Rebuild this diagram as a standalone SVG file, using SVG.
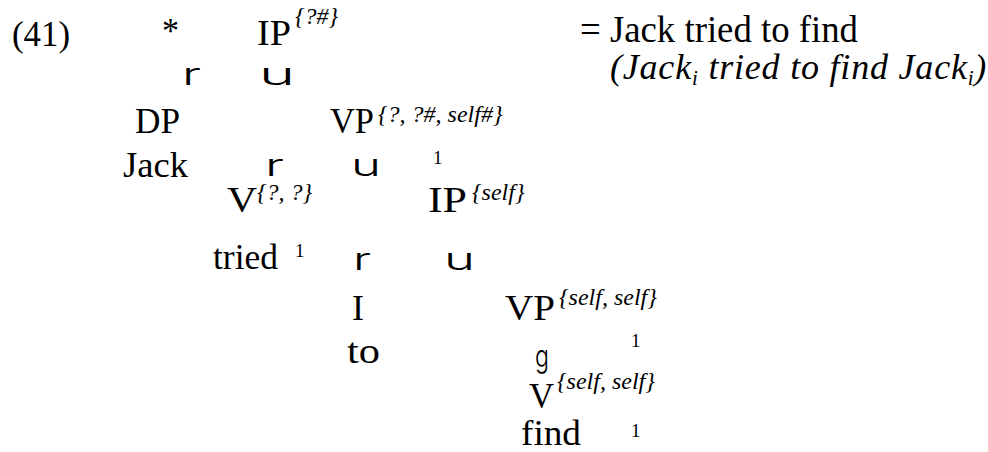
<svg xmlns="http://www.w3.org/2000/svg" width="988" height="452" viewBox="0 0 988 452">
<style>
text{fill:#000}
.m{font-family:"Liberation Serif","Times New Roman",serif;font-size:35px}
.s{font-family:"Liberation Serif","Times New Roman",serif;font-size:24px;font-style:italic}
.n{font-family:"Liberation Serif","Times New Roman",serif;font-size:19px}
.b{font-family:Inter,"Liberation Sans",sans-serif;font-size:31px;font-weight:300}
.h{font-family:"Liberation Serif","Times New Roman",serif;font-size:37px}
.it{font-family:"Liberation Serif","Times New Roman",serif;font-size:36px;font-style:italic;letter-spacing:0.8px}
</style>
<rect width="988" height="452" fill="#fff"/>
<g id="label">
<text class="m" x="12" y="46" textLength="58" lengthAdjust="spacingAndGlyphs">(41)</text>
<text class="m" x="162" y="43" textLength="17" lengthAdjust="spacingAndGlyphs">*</text>
</g>
<g id="gloss">
<text class="h" x="580" y="42" textLength="278" lengthAdjust="spacingAndGlyphs">= Jack tried to find</text>
<text class="it" x="610" y="79">(Jack<tspan font-size="21" dy="6">i</tspan><tspan dy="-6"> tried to find Jack</tspan><tspan font-size="21" dy="6">i</tspan><tspan dy="-6">)</tspan></text>
</g>
<g id="n-IP-top">
<text class="m" x="257" y="45" textLength="34" lengthAdjust="spacingAndGlyphs">IP</text>
<text class="s" x="295" y="24">{?#}</text>
</g>
<g id="n-DP">
<text class="m" x="135" y="133" textLength="45" lengthAdjust="spacingAndGlyphs">DP</text>
</g>
<g id="n-Jack">
<text class="m" x="123" y="177" textLength="65" lengthAdjust="spacingAndGlyphs">Jack</text>
</g>
<g id="n-VP-top">
<text class="m" x="330" y="133" textLength="44" lengthAdjust="spacingAndGlyphs">VP</text>
<text class="s" x="378" y="122">{?, ?#, self#}</text>
</g>
<g id="n-V-tried">
<text class="m" x="227" y="212" textLength="30" lengthAdjust="spacingAndGlyphs">V</text>
<text class="s" x="257" y="200">{?, ?}</text>
</g>
<g id="n-tried">
<text class="m" x="213" y="269" textLength="65" lengthAdjust="spacingAndGlyphs">tried</text>
</g>
<g id="n-IP-self">
<text class="m" x="428" y="212" textLength="39" lengthAdjust="spacingAndGlyphs">IP</text>
<text class="s" x="472" y="200">{self}</text>
</g>
<g id="n-I">
<text class="m" x="352" y="320" textLength="12" lengthAdjust="spacingAndGlyphs">I</text>
</g>
<g id="n-to">
<text class="m" x="347" y="363" textLength="33" lengthAdjust="spacingAndGlyphs">to</text>
</g>
<g id="n-VP-self">
<text class="m" x="505" y="320" textLength="50" lengthAdjust="spacingAndGlyphs">VP</text>
<text class="s" x="559" y="305">{self, self}</text>
</g>
<g id="n-V-find">
<text class="m" x="529" y="408" textLength="25" lengthAdjust="spacingAndGlyphs">V</text>
<text class="s" x="557" y="389">{self, self}</text>
</g>
<g id="n-find">
<text class="m" x="521" y="445" textLength="60" lengthAdjust="spacingAndGlyphs">find</text>
</g>
<g id="connectors">
<text class="b" x="182" y="85" textLength="19" lengthAdjust="spacingAndGlyphs">r</text>
<text class="b" x="259" y="85" textLength="36" lengthAdjust="spacingAndGlyphs">u</text>
<text class="b" x="265" y="176" textLength="19" lengthAdjust="spacingAndGlyphs">r</text>
<text class="b" x="351" y="176" textLength="30" lengthAdjust="spacingAndGlyphs">u</text>
<text class="b" x="353" y="270" textLength="18" lengthAdjust="spacingAndGlyphs">r</text>
<text class="b" x="444" y="270" textLength="31" lengthAdjust="spacingAndGlyphs">u</text>
<text class="b" x="535" y="367" textLength="14" lengthAdjust="spacingAndGlyphs">g</text>
</g>
<g id="marks">
<text class="n" x="433" y="164">1</text>
<text class="n" x="295" y="257">1</text>
<text class="n" x="631" y="347">1</text>
<text class="n" x="631" y="437">1</text>
</g>
</svg>
